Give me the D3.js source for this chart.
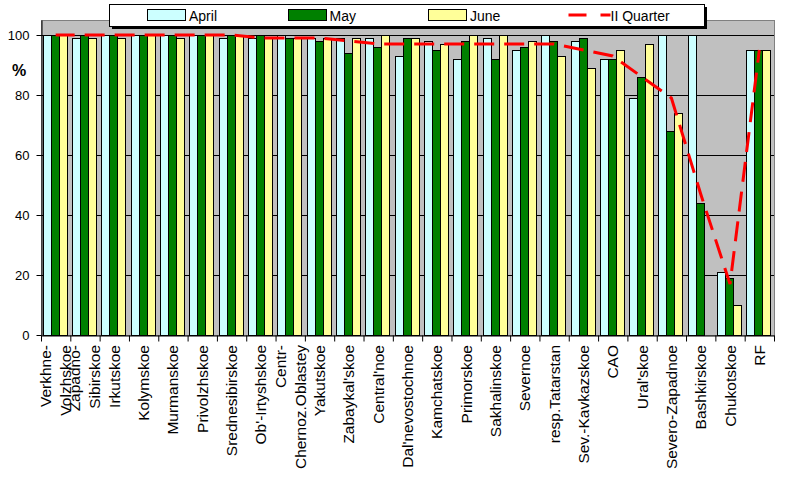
<!DOCTYPE html>
<html><head><meta charset="utf-8">
<script src="https://cdn.jsdelivr.net/npm/d3@7"></script>
<style>
body{margin:0;background:#fff;}
svg{display:block;font-family:Arial,"Liberation Sans",sans-serif;}
</style></head>
<body>
<svg id="chart" width="800" height="479"></svg>
<script>
const categories = ["Verkhne-\nVolzhskoe","Zapadno-\nSibirskoe","Irkutskoe","Kolymskoe","Murmanskoe","Privolzhskoe","Srednesibirskoe","Ob'-Irtyshskoe","Centr-\nChernoz.Oblastey","Yakutskoe","Zabaykal'skoe","Central'noe","Dal'nevostochnoe","Kamchatskoe","Primorskoe","Sakhalinskoe","Severnoe","resp.Tatarstan","Sev.-Kavkazskoe","CAO","Ural'skoe","Severo-Zapadnoe","Bashkirskoe","Chukotskoe","RF"];
const april   = [100, 99,100,100,100,100, 99, 99,100, 99, 99, 99, 93, 98, 92, 99, 95,100, 98, 92, 79,100,100, 21, 95];
const may     = [100,100,100,100,100,100,100,100, 99, 98, 94, 96, 99, 95, 98, 92, 96, 98, 99, 92, 86, 68, 44, 19, 95];
const june    = [100, 99, 99,100, 99,100,100, 99, 99, 99, 99,100, 99, 97,100,100, 98, 93, 89, 95, 97, 74,null, 10, 95];
const quarter = [100,100,100,100,100,100,100, 99, 99, 99, 98, 97, 97, 97, 97, 97, 97, 97, 95, 93, 86, 79, 47, 17, 95];
const seriesNames = ["April","May","June","II Quarter"];
const seriesColors = ["#CCFFFF","#008000","#FFFF99","#FF0000"];
const yTicks = [0,20,40,60,80,100];

const svg = d3.select("#chart");
const L = 41, R = 774, T = 20, B = 335;

const x = d3.scaleBand().domain(categories).range([L, R]).padding(0);
const xs = d3.scaleBand().domain(seriesNames.slice(0,3)).range([0, x.bandwidth()]).paddingInner(0).paddingOuter(0.33).align(0.33);
const xb = d3.scaleLinear().domain([0, categories.length]).range([L, R]);
const y = d3.scaleLinear().domain([0, 105]).range([B, T]);

// plot area
svg.append("rect").attr("x", L).attr("y", T).attr("width", R - L).attr("height", B - T)
  .attr("fill", "#C0C0C0").attr("stroke", "#808080").attr("stroke-width", 1).attr("shape-rendering","crispEdges");

// gridlines
svg.append("g").selectAll("line").data(yTicks.filter(d => d > 0)).join("line")
  .attr("x1", L).attr("x2", R)
  .attr("y1", d => Math.round(y(d)) + 0.5).attr("y2", d => Math.round(y(d)) + 0.5)
  .attr("stroke", "#000").attr("stroke-width", 1);

// bars
const seriesData = [april, may, june];
seriesData.forEach((vals, si) => {
  svg.append("g").selectAll("rect").data(categories.map((c, i) => ({c, v: vals[i]})).filter(d => d.v != null)).join("rect")
    .attr("x", d => Math.round(x(d.c) + xs(seriesNames[si])) + 0.5)
    .attr("width", Math.round(xs.bandwidth()))
    .attr("y", d => Math.round(y(d.v)) + 0.5)
    .attr("height", d => Math.round(y(0)) - Math.round(y(d.v)))
    .attr("fill", seriesColors[si]).attr("stroke", "#000").attr("stroke-width", 1);
});

// quarter line
const line = d3.line().x((d, i) => x(categories[i]) + x.bandwidth() / 2).y(d => y(d));
svg.append("path").datum(quarter).attr("d", line)
  .attr("fill", "none").attr("stroke", seriesColors[3]).attr("stroke-width", 3)
  .attr("stroke-dasharray", "20,10").attr("stroke-dashoffset", 1);

// y axis
const ya = svg.append("g").attr("transform", `translate(${L + 0.5},0)`)
  .call(d3.axisLeft(y).tickValues(yTicks).tickSize(5).tickSizeOuter(0).tickPadding(7));
ya.selectAll("path,line").attr("stroke", "#000");
ya.selectAll("text").attr("font-size", 13).attr("font-family", "Arial,'Liberation Sans',sans-serif").attr("fill", "#000");

svg.append("text").attr("x", 19).attr("y", 76).attr("text-anchor", "middle")
  .attr("font-size", 16).attr("font-weight", "bold").text("%");

// x axis
const xa = svg.append("g").attr("transform", `translate(0,${B + 0.5})`)
  .call(d3.axisBottom(xb).tickValues(d3.range(categories.length + 1)).tickFormat("").tickSize(6).tickSizeOuter(0));
xa.selectAll("path,line").attr("stroke", "#000");

// x labels
const lab = svg.append("g").selectAll("text").data(categories).join("text")
  .attr("transform", d => `translate(${x(d) + x.bandwidth() / 2},345) rotate(-90)`)
  .attr("text-anchor", "end").attr("font-size", 15.5).attr("fill", "#000");
lab.each(function(d) {
  const lines = d.split("\n");
  const t = d3.select(this);
  lines.forEach((s, i) => {
    t.append("tspan").attr("x", 0).attr("y", 5.5 + (i - (lines.length - 1) / 2) * 20).text(s);
  });
});

// legend
const lg = svg.append("g");
lg.append("rect").attr("x", 112).attr("y", 7).attr("width", 595).attr("height", 22).attr("fill", "#000");
lg.append("rect").attr("x", 109.5).attr("y", 4.5).attr("width", 595).attr("height", 22)
  .attr("fill", "#fff").attr("stroke", "#000").attr("stroke-width", 1);
seriesNames.forEach((n, i) => {
  const lx = 147 + i * 140.5;
  if (i < 3) {
    lg.append("rect").attr("x", Math.round(lx) + 0.5).attr("y", 9.5).attr("width", 38).attr("height", 11)
      .attr("fill", seriesColors[i]).attr("stroke", "#000").attr("stroke-width", 1);
  } else {
    lg.append("line").attr("x1", lx).attr("x2", lx + 42).attr("y1", 15).attr("y2", 15)
      .attr("stroke", seriesColors[i]).attr("stroke-width", 3).attr("stroke-dasharray", "18,14");
  }
  lg.append("text").attr("x", lx + 42).attr("y", 20.5).attr("font-size", 14).attr("fill", "#000").text(n);
});
</script>
</body></html>
